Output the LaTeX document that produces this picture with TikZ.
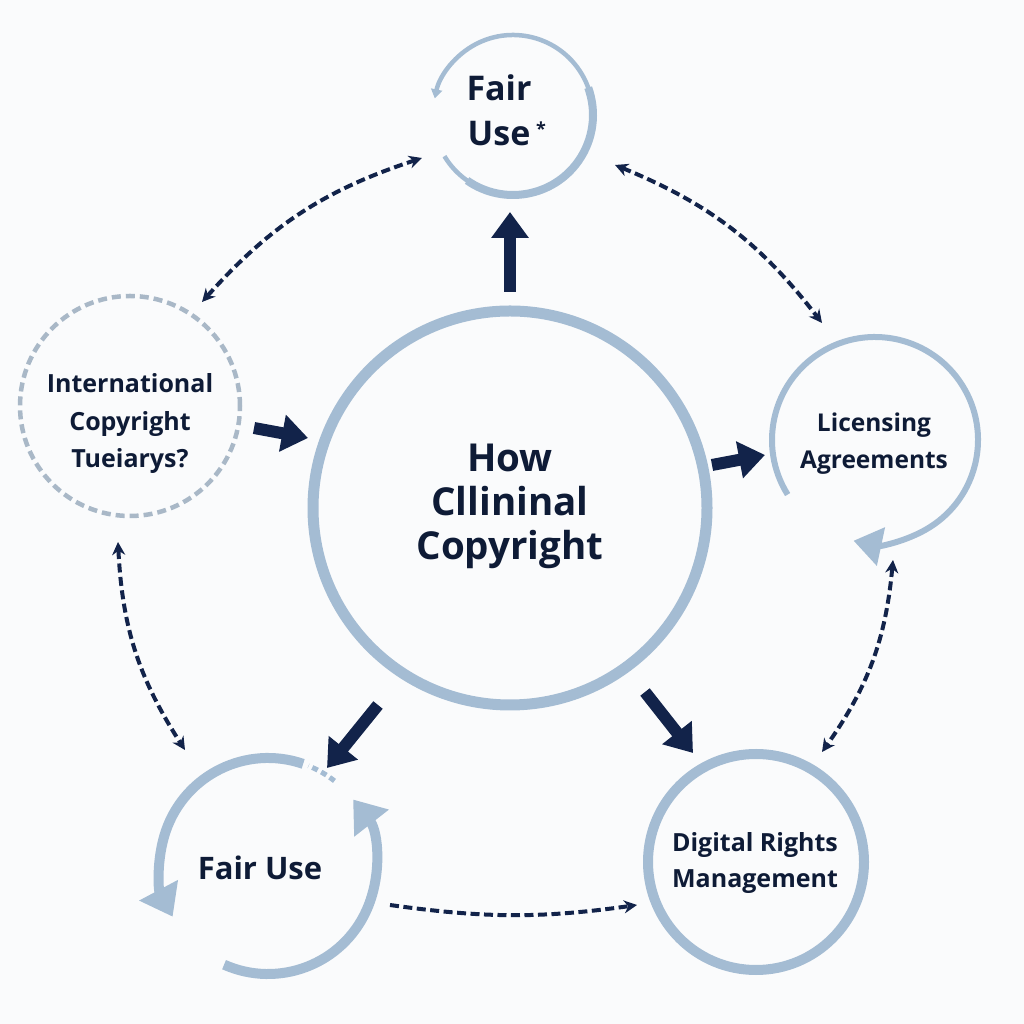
\documentclass[tikz,border=0pt]{standalone}
\usepackage{fontspec}
\setmainfont{Open Sans}
\usetikzlibrary{arrows.meta,calc}
\definecolor{ring}{HTML}{A4BCD3}
\definecolor{ringgray}{HTML}{A9B8C7}
\definecolor{navy}{HTML}{12234A}
\definecolor{ink}{HTML}{0E1B36}
\definecolor{bg}{HTML}{FAFBFC}
\tikzset{
  lbl/.style={text=ink, font=\bfseries, align=center, inner sep=0pt},
  bigarrow/.style={navy, line width=12pt, -{Triangle[length=26pt,width=36pt]}},
  dasharrow/.style={navy, line width=4pt, dash pattern=on 9pt off 4.5pt,
     {Stealth[length=13pt,width=13pt]}-{Stealth[length=13pt,width=13pt]}},
  dashone/.style={navy, line width=4pt, dash pattern=on 9pt off 4.5pt,
     -{Stealth[length=13pt,width=13pt]}},
  ringline/.style={ring, line width=10pt},
}
\begin{document}
\begin{tikzpicture}[x=1pt,y=1pt]
\fill[bg] (0,0) rectangle (1024,1024);
\useasboundingbox (0,0) rectangle (1024,1024);

% circle centres
\coordinate (Cc) at (510,516);
\coordinate (Tc) at (513,909);
\coordinate (Lc) at (130,618);
\coordinate (Rc) at (875,584);
\coordinate (BLc) at (268,158);
\coordinate (BRc) at (756,162);

% rings
\draw[ringline, line width=11pt] (Cc) circle[radius=197];
\draw[ring, line width=4.5pt, -{Triangle[length=9pt,width=11pt]}] ($(Tc)+(211:80)$) arc[start angle=211, end angle=528, radius=80];
\draw[ring, line width=8pt] ($(Tc)+(235:80)$) arc[start angle=235, end angle=380, radius=80];
\draw[ringgray, line width=4.5pt, dash pattern=on 9pt off 5pt] (Lc) circle[radius=110];
\draw[ring, line width=6pt, -{Triangle[length=28pt,width=38pt]}] ($(Rc)+(212:103)$) arc[start angle=212, end angle=-102, radius=103];
\draw[ring, line width=10pt, -{Triangle[length=30pt,width=42pt]}] ($(BLc)+(71:108)$) arc[start angle=71, end angle=208, radius=108];
\draw[ring, line width=5pt, dash pattern=on 6pt off 4pt] ($(BLc)+(52:108)$) arc[start angle=52, end angle=68, radius=108];
\draw[ring, line width=10pt, -{Triangle[length=30pt,width=42pt]}] ($(BLc)+(-114:108)$) arc[start angle=-114, end angle=38, radius=108];
\draw[ringline] (BRc) circle[radius=108];

% texts
\node[lbl, font=\bfseries\fontsize{38.5}{44}\selectfont] (C) at (510,518) {How\\Cllininal\\Copyright};
\node[lbl, font=\bfseries\fontsize{34}{45}\selectfont] (T) at (499,914) {Fair\\Use\rlap{\,\raisebox{10pt}{\fontsize{18}{18}\selectfont *}}};
\node[lbl, font=\bfseries\fontsize{25}{37.5}\selectfont] (L) at (130,600) {International\\Copyright\\Tueiarys?};
\node[lbl, font=\bfseries\fontsize{24.5}{37}\selectfont] (R) at (874,580) {Licensing\\Agreements};
\node[lbl, font=\bfseries\fontsize{31}{37}\selectfont] (BL) at (260,156) {Fair Use};
\node[lbl, font=\bfseries\fontsize{25}{36}\selectfont] (BR) at (755,161) {Digital Rights\\Management};

% thick arrows
\coordinate (u1) at (510,732); \coordinate (u2) at (510,812);
\coordinate (a1) at (254,596); \coordinate (a2) at (308,586);
\coordinate (b1) at (712,559); \coordinate (b2) at (765,569);
\coordinate (c1) at (378,319); \coordinate (c2) at (327,256);
\coordinate (d1) at (645,332); \coordinate (d2) at (693,271);
\draw[bigarrow] (u1) -- (u2);
\draw[bigarrow] (a1) -- (a2);
\draw[bigarrow] (b1) -- (b2);
\draw[bigarrow] (c1) -- (c2);
\draw[bigarrow] (d1) -- (d2);

% dashed connectors
\coordinate (tl1) at (202,722); \coordinate (tl2) at (422,866);
\coordinate (tr1) at (615,859); \coordinate (tr2) at (822,701);
\coordinate (l1) at (118,482); \coordinate (l2) at (185,274);
\coordinate (r1) at (893,464); \coordinate (r2) at (822,272);
\coordinate (bb1) at (390,119); \coordinate (bb2) at (637,119);
\draw[dasharrow] (tl1) to[bend left=15] (tl2);
\draw[dasharrow] (tr1) to[bend left=15] (tr2);
\draw[dasharrow] (l1) to[bend right=15] (l2);
\draw[dasharrow] (r1) to[bend left=15] (r2);
\draw[dashone] (bb1) to[bend right=8] (bb2);
\end{tikzpicture}
\end{document}
